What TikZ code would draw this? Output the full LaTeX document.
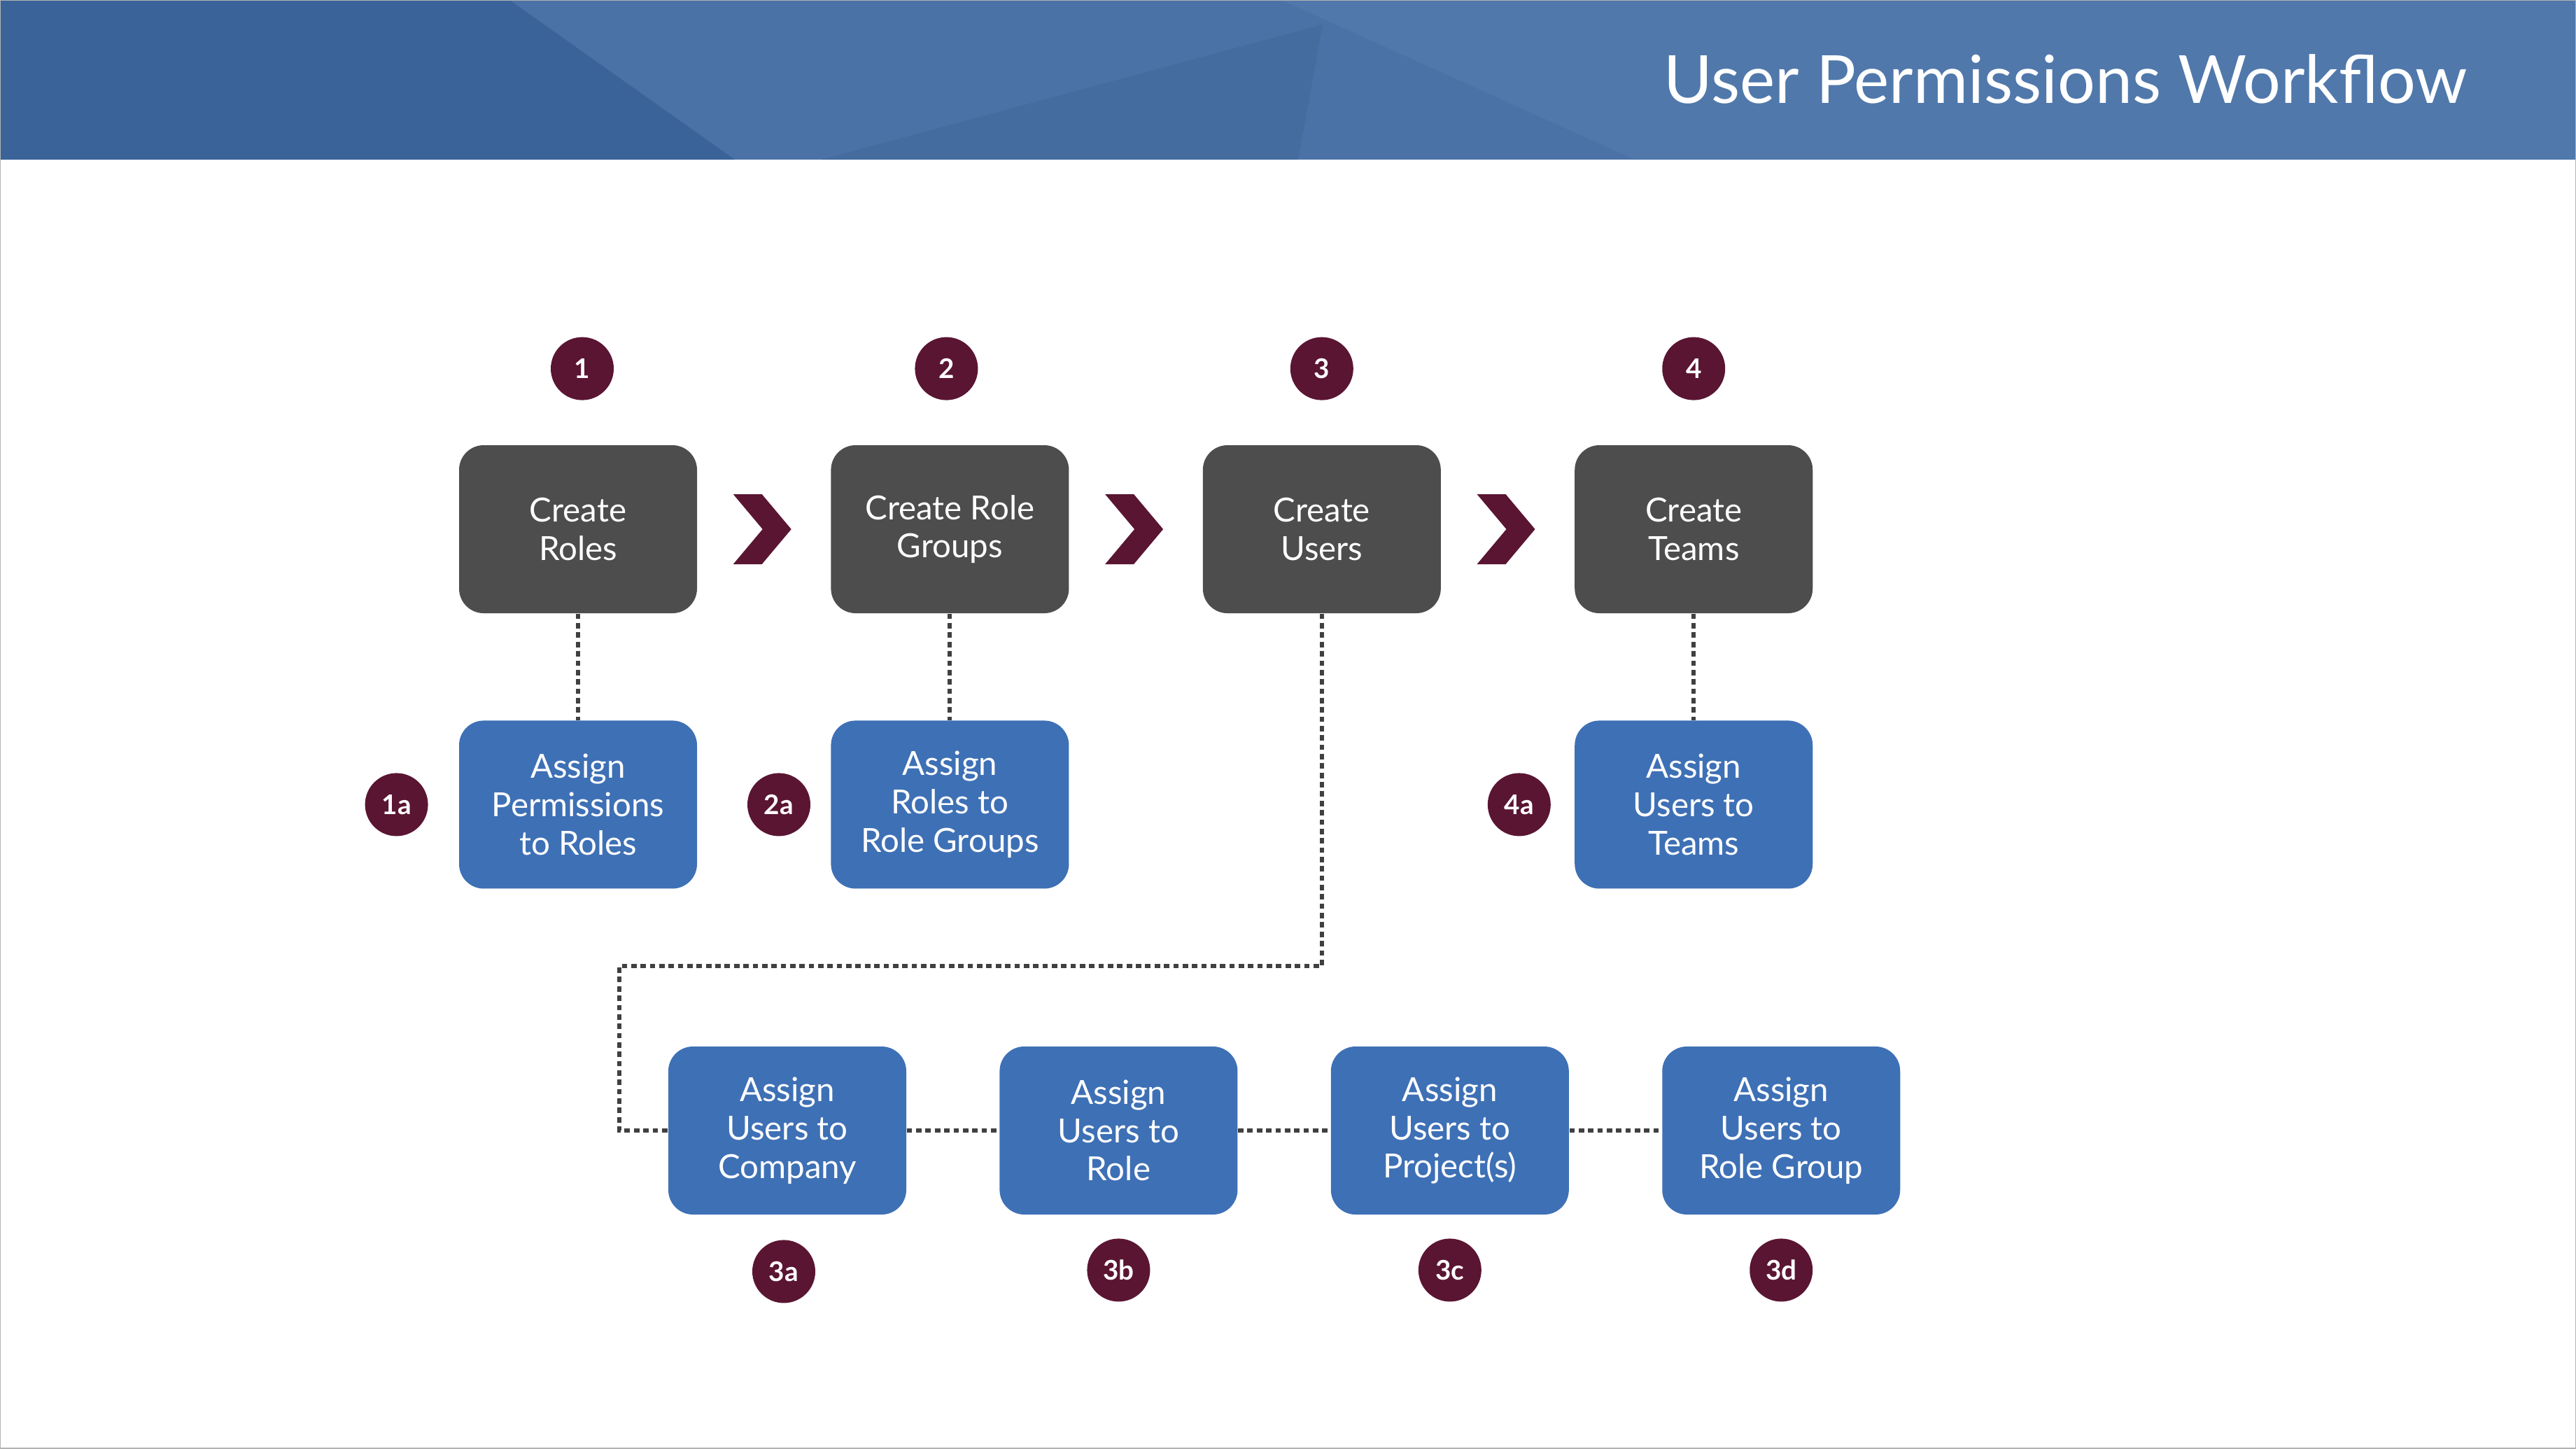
\documentclass[tikz,border=0pt]{standalone}
\usepackage{fontspec}
\setmainfont{Lato}
\usetikzlibrary{positioning, calc}
\definecolor{headmid}{HTML}{4A72A6}
\definecolor{headdark}{HTML}{3A6399}
\definecolor{headlight}{HTML}{5078AB}
\definecolor{headtri}{HTML}{446C9F}
\definecolor{boxgray}{HTML}{4D4D4D}
\definecolor{boxblue}{HTML}{3E70B5}
\definecolor{maroon}{HTML}{5A1532}
\definecolor{dotgray}{HTML}{404040}

\begin{document}
\begin{tikzpicture}[
    node distance=1.9cm, every node/.style={font=\fontsize{13.5}{15.6}\selectfont, text=white},
    stepdark/.style={rounded corners=10pt, fill=boxgray, minimum width=3.4cm, minimum height=2.4cm, align=center, inner sep=2pt},
    stepblue/.style={stepdark, fill=boxblue},
    badge/.style={circle, fill=maroon, minimum size=0.9cm, inner sep=0pt, font=\fontsize{11}{13}\bfseries\selectfont},
    dotline/.style={draw=dotgray, line width=1.7pt, dash pattern=on 2.2pt off 1.6pt}
  ]
\useasboundingbox (0,0) rectangle (36.81,-20.69);

% header band
\fill[headmid] (0,0) rectangle (36.81,-2.28);
\fill[headlight] (18.31,0) -- (36.81,0) -- (36.81,-2.28) -- (23.36,-2.28) -- cycle;
\fill[headdark] (0,0) -- (7.28,0) -- (10.50,-2.28) -- (0,-2.28) -- cycle;
\fill[headtri] (11.74,-2.28) -- (18.90,-0.35) -- (18.55,-2.28) -- cycle;
\node[anchor=east, inner sep=0pt, font=\fontsize{27}{30}\selectfont] (title) at (35.26,-1.13) {User Permissions Workflow};

% main steps
\node[stepdark] (roles) at (8.26,-7.56) {Create\\Roles};
\node[stepdark, right=of roles] (rolegroups) {Create Role\\Groups};
\node[stepdark, right=of rolegroups] (users) {Create\\Users};
\node[stepdark, right=of users] (teams) {Create\\Teams};

\node[stepblue, below=1.52cm of roles] (perm) {Assign\\Permissions\\to Roles};
\node[stepblue, below=1.52cm of rolegroups] (rgassign) {Assign\\Roles to\\Role Groups};
\node[stepblue, below=1.52cm of teams] (teamassign) {Assign\\Users to\\Teams};

\node[stepblue] (company) at (11.25,-16.15) {Assign\\Users to\\Company};
\node[stepblue, right=1.32cm of company] (role) {Assign\\Users to\\Role};
\node[stepblue, right=1.32cm of role] (project) {Assign\\Users to\\Project(s)};
\node[stepblue, right=1.32cm of project] (rolegroup) {Assign\\Users to\\Role Group};

% badges
\node[badge, above=0.63cm of roles, xshift=0.06cm] (b1) {1};
\node[badge, above=0.63cm of rolegroups, xshift=-0.05cm] (b2) {2};
\node[badge, above=0.63cm of users] (b3) {3};
\node[badge, above=0.63cm of teams] (b4) {4};
\node[badge, left=0.43cm of perm] (b1a) {1a};
\node[badge, left=0.28cm of rgassign] (b2a) {2a};
\node[badge, left=0.33cm of teamassign] (b4a) {4a};
\node[badge, below=0.35cm of company, xshift=-0.05cm] (b3a) {3a};
\node[badge, below=0.33cm of role] (b3b) {3b};
\node[badge, below=0.33cm of project] (b3c) {3c};
\node[badge, below=0.33cm of rolegroup] (b3d) {3d};

% chevrons
\foreach \a/\b in {roles/rolegroups, rolegroups/users, users/teams}{
  \coordinate (mid) at ($(\a.east)!0.5!(\b.west)$);
  \fill[maroon, shift={(mid)}] (-0.44,0.5) -- (-0.03,0.5) -- (0.39,0) -- (-0.03,-0.5) -- (-0.44,-0.5) -- (-0.02,0) -- cycle;
}

% dotted links
\draw[dotline] (roles) -- (perm);
\draw[dotline] (rolegroups) -- (rgassign);
\draw[dotline] (teams) -- (teamassign);
\coordinate (turn) at (8.85,-13.80);
\draw[dotline] (users.south) |- (turn) |- (company.west);
\foreach \a/\b in {company/role, role/project, project/rolegroup}
  \draw[dotline] (\a) -- (\b);

\draw[gray!60, line width=0.6pt] (0,0) rectangle (36.81,-20.69);
\end{tikzpicture}
\end{document}
